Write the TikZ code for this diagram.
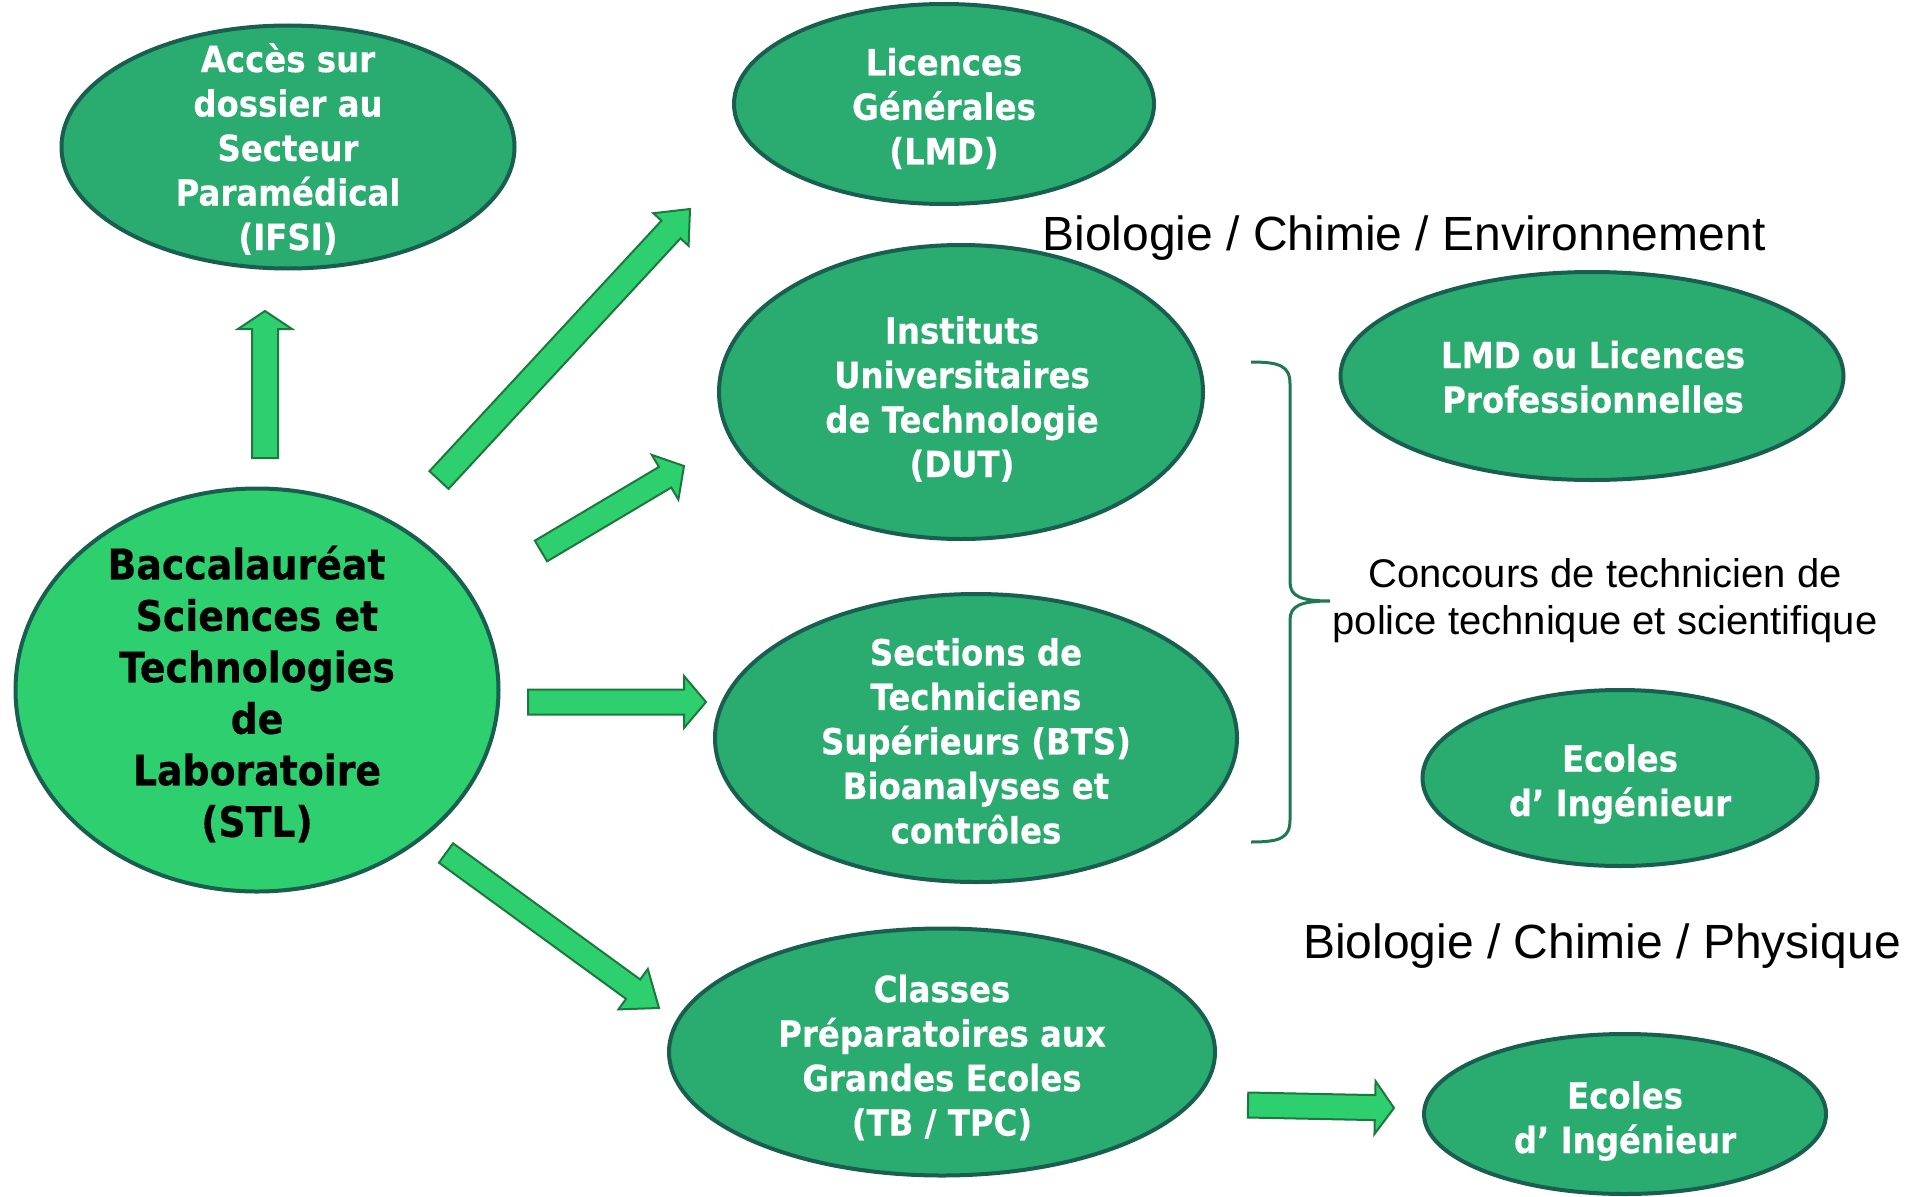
\documentclass[tikz,border=0pt]{standalone}
\usepackage{fontspec}
\setmainfont{Liberation Sans}
\newfontfamily\boxfont{DejaVu Sans}[FakeStretch=0.9,FakeBold=0.4]
\usetikzlibrary{shapes.geometric,calc}
\definecolor{ellfill}{RGB}{42,172,112}
\definecolor{ellline}{RGB}{25,95,80}
\definecolor{lightg}{RGB}{46,207,110}
\definecolor{arrline}{RGB}{28,120,60}
\definecolor{braceg}{RGB}{30,120,80}
\tikzset{
 ell/.style={ellipse, draw=ellline, fill=ellfill, line width=4pt, inner sep=0pt},
 stlell/.style={ellipse, draw=ellline, fill=lightg, line width=4pt, inner sep=0pt},
 etext/.style={text=white, align=center, font=\boxfont\bfseries\fontsize{36}{44.5}\selectfont, inner sep=0pt},
 stltext/.style={text=black, align=center, font=\boxfont\bfseries\fontsize{42}{51.5}\selectfont, inner sep=0pt},
 lab/.style={text=black, font=\fontsize{48}{56}\selectfont, inner sep=0pt},
 conc/.style={text=black, align=center, font=\fontsize{40}{47}\selectfont, inner sep=0pt},
 barrow/.style={fill=lightg, draw=arrline, line width=2pt, line join=miter},
 bracestyle/.style={draw=braceg, line width=3pt}
}
% #1 tail, #2 tip, #3 shaft half width, #4 head half width, #5 head length
\newcommand\blockarrow[5]{%
 \path (#1); \pgfgetlastxy{\bax}{\bay}%
 \path (#2); \pgfgetlastxy{\bbx}{\bby}%
 \pgfmathsetmacro\baang{atan2((\bby)-(\bay),(\bbx)-(\bax))}%
 \pgfmathsetmacro\balen{veclen((\bbx)-(\bax),(\bby)-(\bay))}%
 \begin{scope}[shift={(#1)},rotate=\baang]
  \filldraw[barrow] (0,-#3) -- ({\balen-#5},-#3) -- ({\balen-#5},-#4) -- (\balen,0)
   -- ({\balen-#5},#4) -- ({\balen-#5},#3) -- (0,#3) -- cycle;
 \end{scope}}
\begin{document}
\begin{tikzpicture}[x=1pt,y=-1pt]
\useasboundingbox[fill=white] (0,0) rectangle (1921,1196);

% ellipses
\node[ell, minimum width=453pt, minimum height=243pt] (ifsi) at (288,147) {};
\node[ell, minimum width=420pt, minimum height=200pt] (lic) at (944,104) {};
\node[ell, minimum width=484pt, minimum height=294pt] (iut) at (961,392) {};
\node[ell, minimum width=522pt, minimum height=288pt] (bts) at (976,738) {};
\node[ell, minimum width=546pt, minimum height=247pt] (cpge) at (942,1052) {};
\node[stlell, minimum width=483pt, minimum height=403pt] (stl) at (257,690) {};
\node[ell, minimum width=503pt, minimum height=208pt] (lmd) at (1592,376) {};
\node[ell, minimum width=395pt, minimum height=176pt] (ec1) at (1620,778) {};
\node[ell, minimum width=402pt, minimum height=160pt] (ec2) at (1625,1114) {};

% texts in ellipses
\node[etext] (ifsiT) at (288,149) {Accès sur\\dossier au\\Secteur\\Paramédical\\(IFSI)};
\node[etext] (licT) at (944,108.5) {Licences\\Générales\\(LMD)};
\node[etext] (iutT) at (962,399) {Instituts\\Universitaires\\de Technologie\\(DUT)};
\node[etext] (btsT) at (976,741) {Sections de\\Techniciens\\Supérieurs (BTS)\\Bioanalyses et\\contrôles};
\node[etext] (cpgeT) at (942,1057.5) {Classes\\Préparatoires aux\\Grandes Ecoles\\(TB / TPC)};
\node[stltext] (stlT) at (257,694) {Baccalauréat\hspace*{21pt}\\Sciences et\\Technologies\\de\\Laboratoire\\(STL)};
\node[etext] (lmdT) at (1593,377) {LMD ou Licences\\Professionnelles};
\node[etext] (ec1T) at (1620,784) {Ecoles\\d’ Ingénieur};
\node[etext] (ec2T) at (1625,1121) {Ecoles\\d’ Ingénieur};

% free labels
\node[lab] (bioA) at (1404,238) {Biologie / Chimie / Environnement};
\node[lab] (bioB) at (1602,946) {Biologie / Chimie / Physique};
\node[conc] (conc) at (1605,601) {Concours de technicien de\\police technique et scientifique};

% arrow end points
\coordinate (upA) at (265,458);   \coordinate (upB) at (265,311);
\coordinate (licA) at (439,480);  \coordinate (licB) at (690,209);
\coordinate (iutA) at (541,551);  \coordinate (iutB) at (684,466);
\coordinate (btsA) at (528,702);  \coordinate (btsB) at (706,702);
\coordinate (cpA) at (446,853);   \coordinate (cpB) at (659,1008);
\coordinate (ecA) at (1248,1105); \coordinate (ecB) at (1394,1108);

\blockarrow{upA}{upB}{13}{27}{18}
\blockarrow{licA}{licB}{13}{24}{28}
\blockarrow{iutA}{iutB}{12}{26}{22}
\blockarrow{btsA}{btsB}{12.5}{26}{22}
\blockarrow{cpA}{cpB}{12}{25}{32}
\blockarrow{ecA}{ecB}{12.5}{26.5}{19}

% brace
\coordinate (braceTop) at (1251,362);
\coordinate (braceTip) at (1330,601);
\coordinate (braceBot) at (1251,842);
\draw[bracestyle] (braceTop) .. controls (1280,362) and (1290,366) .. (1290,384)
  -- (1290,582) .. controls (1290,596) and (1300,601) .. (braceTip)
  .. controls (1300,601) and (1290,606) .. (1290,620)
  -- (1290,820) .. controls (1290,838) and (1280,842) .. (braceBot);
\end{tikzpicture}
\end{document}
